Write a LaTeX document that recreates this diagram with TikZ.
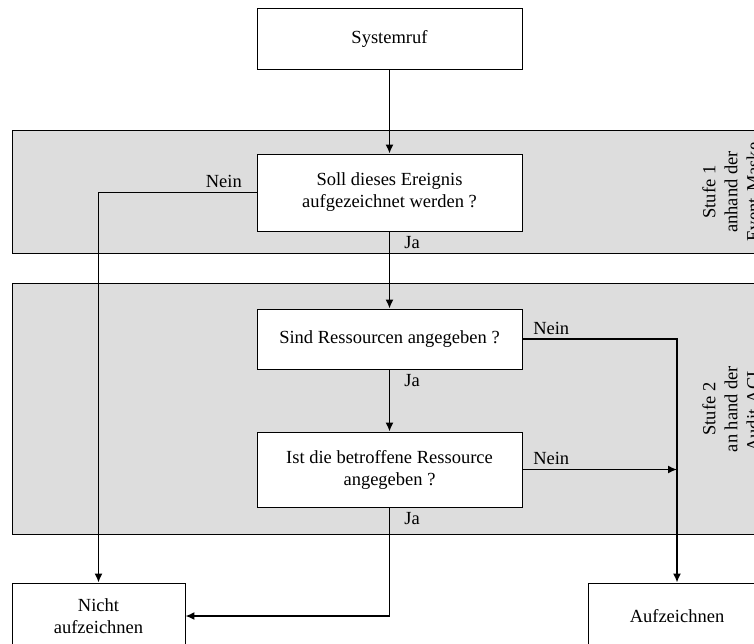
\documentclass[tikz,border=0pt]{standalone}
\usepackage{fontspec}
\setmainfont{Liberation Serif}
\usepackage{xcolor}
\usepackage{tikz}
\usetikzlibrary{positioning,arrows.meta,calc}
\definecolor{bandgray}{RGB}{221,221,221}
\tikzset{
    box/.style={draw, line width=0.9pt, fill=white, align=center, inner sep=0pt},
    band/.style={draw, line width=0.9pt, fill=bandgray},
    conn/.style={line width=1.6pt, -{Latex[length=9pt,width=8pt]}},
    lbl/.style={inner sep=4pt}
}

\begin{document}
\begin{tikzpicture}[x=1pt, y=-1pt, font=\fontsize{18.5}{22}\selectfont]
    \useasboundingbox (0,0) rectangle (754,644);
    \clip (0,0) rectangle (754,644);

    % Stages
    \draw[band] (12,130) rectangle (770,253);
    \draw[band] (12,283) rectangle (770,534);
    \node[rotate=90, align=center] (stufeA) at (731,192) {Stufe 1\\anhand der\\Event-Maske};
    \node[rotate=90, align=center] (stufeB) at (731,409) {Stufe 2\\an hand der\\Audit-ACL};

    % Boxes
    \node[box, minimum width=265pt, minimum height=61pt] (sys) at (389.5,38.5) {Systemruf};
    \node[box, minimum width=265pt, minimum height=77pt] (soll) at (389.5,192.5) {Soll dieses Ereignis\\aufgezeichnet werden ?};
    \node[box, minimum width=265pt, minimum height=60pt] (sind) at (389.5,339) {Sind Ressourcen angegeben ?};
    \node[box, minimum width=265pt, minimum height=75pt] (ist) at (389.5,469.5) {Ist die betroffene Ressource\\angegeben ?};
    \node[box, minimum width=173pt, minimum height=66pt] (nicht) at (98.5,616) {Nicht\\aufzeichnen};
    \node[box, minimum width=178pt, minimum height=66pt] (auf) at (677,616) {Aufzeichnen};

    % Connectors
    \draw[conn] (sys) -- (soll);
    \draw[conn] (soll) -- node[lbl, below right, at start, xshift=10pt] {Ja} (sind);
    \draw[conn] (sind) -- node[lbl, below right, at start, xshift=10pt] {Ja} (ist);
    \draw[conn] (soll.west) -- node[lbl, above left, at start, xshift=-10pt] {Nein} (soll.west -| nicht.north) -- (nicht.north);
    \draw[conn] (sind.east) -- node[lbl, above right, at start, xshift=6pt] {Nein} (sind.east -| auf.north) -- (auf.north);
    \draw[conn] (ist.east) -- node[lbl, above right, at start, xshift=6pt] {Nein} (ist.east -| auf.north);
    \draw[conn] (ist.south) -- node[lbl, below right, at start, xshift=10pt] {Ja} (ist.south |- nicht.east) -- (nicht.east);
\end{tikzpicture}
\end{document}
